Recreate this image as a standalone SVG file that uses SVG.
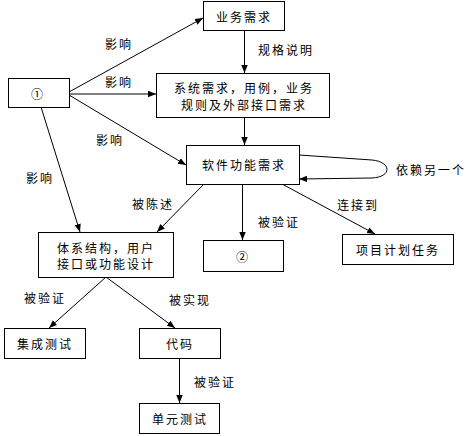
<svg xmlns="http://www.w3.org/2000/svg" width="473" height="436" viewBox="0 0 473 436">
<style>
.box{fill:#fff;stroke:#000;stroke-width:1}
.t{font-family:"Noto Sans CJK SC","Liberation Sans",sans-serif;font-size:12px;fill:#000;text-anchor:middle;dominant-baseline:central;letter-spacing:2px}
.c{stroke:#000;stroke-width:1;fill:none;marker-end:url(#ah)}
</style>
<defs>
<marker id="ah" viewBox="0 0 10 10" refX="10" refY="5" markerWidth="8" markerHeight="8" markerUnits="userSpaceOnUse" orient="auto">
<path d="M0,1 L10,5 L0,9 z" fill="#000"/>
</marker>
</defs>
<rect width="473" height="436" fill="#fff"/>
<g id="connectors">
<line class="c" x1="69" y1="92" x2="203" y2="18"/>
<line class="c" x1="69" y1="94" x2="156" y2="94"/>
<line class="c" x1="69" y1="95" x2="186" y2="165"/>
<line class="c" x1="41" y1="107" x2="80" y2="232"/>
<line class="c" x1="244.5" y1="30" x2="244.5" y2="73"/>
<line class="c" x1="244.5" y1="117" x2="244.5" y2="145"/>
<path class="c" d="M299,155 L372,160 C392,162 392,177 372,178 L299,179"/>
<line class="c" x1="203" y1="185" x2="157" y2="232"/>
<line class="c" x1="242.5" y1="184" x2="242.5" y2="240"/>
<line class="c" x1="282" y1="184" x2="375" y2="234"/>
<line class="c" x1="106" y1="277" x2="49" y2="328"/>
<line class="c" x1="106" y1="277" x2="175" y2="328"/>
<line class="c" x1="179.5" y1="358" x2="179.5" y2="403"/>
<text class="t" x="119" y="43">影响</text>
<text class="t" x="119" y="81">影响</text>
<text class="t" x="110" y="139">影响</text>
<text class="t" x="40" y="177">影响</text>
<text class="t" x="286" y="49">规格说明</text>
<text class="t" x="431" y="169">依赖另一个</text>
<text class="t" x="153" y="203">被陈述</text>
<text class="t" x="279" y="221">被验证</text>
<text class="t" x="358" y="204">连接到</text>
<text class="t" x="45" y="297">被验证</text>
<text class="t" x="190" y="299">被实现</text>
<text class="t" x="215" y="381">被验证</text>
</g>
<g id="n1"><rect class="box" x="8.5" y="78.5" width="61" height="29"/><text class="t" x="38" y="93">①</text></g>
<g id="yewu"><rect class="box" x="203.5" y="1.5" width="81" height="29"/><text class="t" x="244" y="16">业务需求</text></g>
<g id="xitong"><rect class="box" x="156.5" y="73.5" width="173" height="44"/><text class="t" x="244" y="87">系统需求，用例，业务</text><text class="t" x="244" y="104">规则及外部接口需求</text></g>
<g id="ruanjian"><rect class="box" x="186.5" y="145.5" width="113" height="39"/><text class="t" x="244" y="164">软件功能需求</text></g>
<g id="tixi"><rect class="box" x="38.5" y="232.5" width="135" height="45"/><text class="t" x="106" y="247">体系结构，用户</text><text class="t" x="106" y="263">接口或功能设计</text></g>
<g id="n2"><rect class="box" x="203.5" y="240.5" width="80" height="31"/><text class="t" x="243" y="256">②</text></g>
<g id="xiangmu"><rect class="box" x="342.5" y="234.5" width="111" height="30"/><text class="t" x="398" y="249">项目计划任务</text></g>
<g id="jicheng"><rect class="box" x="4.5" y="328.5" width="81" height="30"/><text class="t" x="45" y="343">集成测试</text></g>
<g id="daima"><rect class="box" x="139.5" y="328.5" width="81" height="30"/><text class="t" x="180" y="343">代码</text></g>
<g id="danyuan"><rect class="box" x="139.5" y="403.5" width="80" height="30"/><text class="t" x="180" y="418">单元测试</text></g>
</svg>
